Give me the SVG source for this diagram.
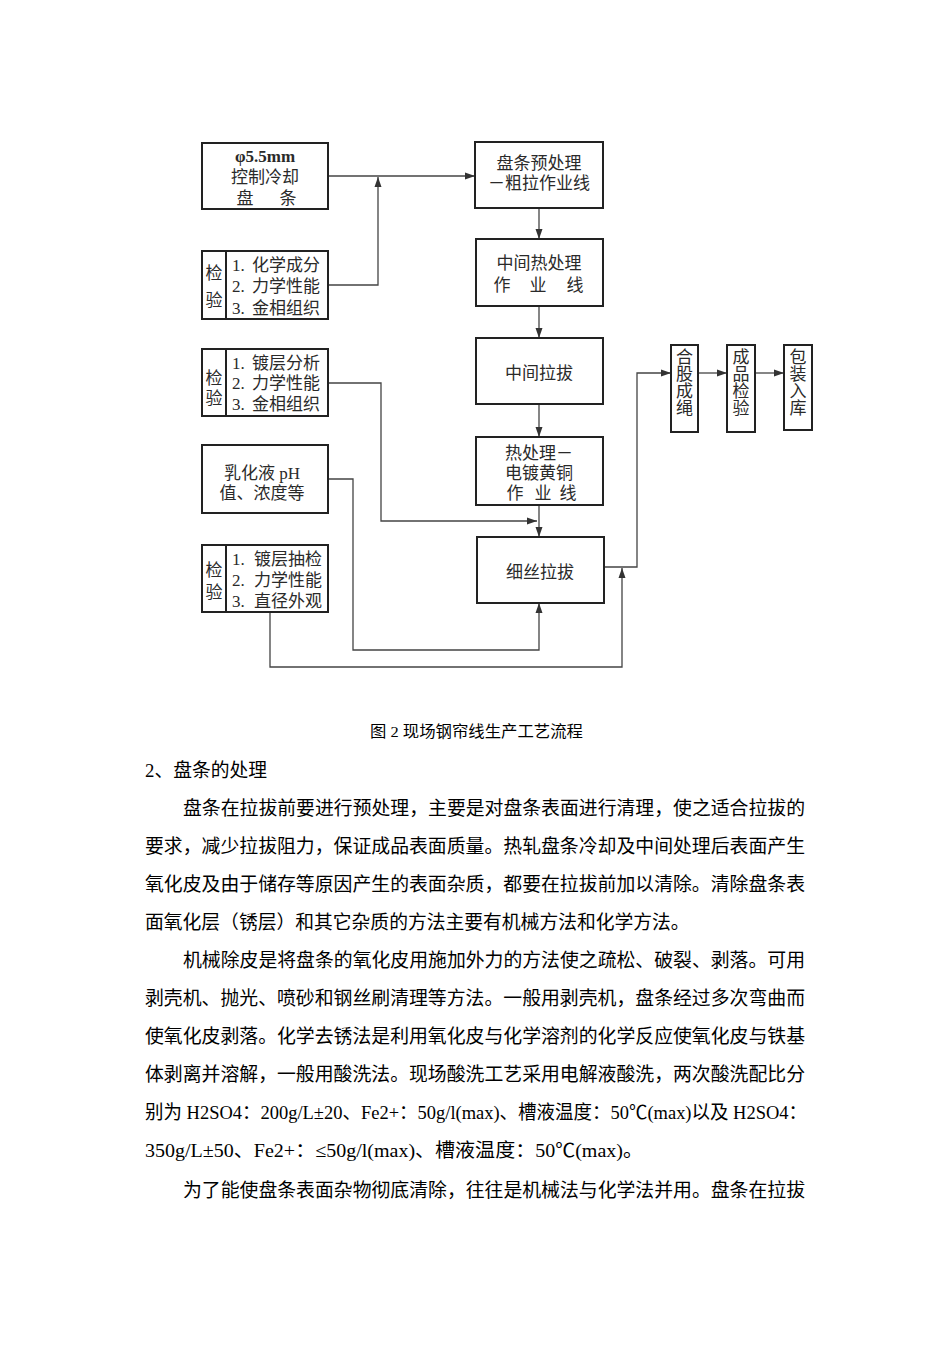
<svg xmlns="http://www.w3.org/2000/svg" width="950" height="1345" viewBox="0 0 950 1345">
<style>
.bg{fill:#fff}
.box{fill:#fff;stroke:#222;stroke-width:2}
.con{fill:none;stroke:#444;stroke-width:1.3}
.t{font-family:"Liberation Serif","Noto Sans CJK SC",serif;font-size:17px;fill:#2a2a2a;dominant-baseline:central}
.c{text-anchor:middle}
.body{font-family:"Liberation Serif","Noto Sans CJK SC",serif;font-size:18.8px;fill:#000;dominant-baseline:central}
.cap{font-family:"Liberation Serif","Noto Sans CJK SC",serif;font-size:15.5px;fill:#000;dominant-baseline:central}
</style>
<defs>
<marker id="ah" markerUnits="userSpaceOnUse" markerWidth="10" markerHeight="8" refX="10" refY="4" orient="auto">
<path d="M0,0.5 L10,4 L0,7.5 z" fill="#333"/>
</marker>
</defs>
<rect class="bg" x="0" y="0" width="950" height="1345"/>

<g id="connectors">
<path class="con" d="M328,176 H475" marker-end="url(#ah)"/>
<path class="con" d="M328,285 H378 V177" marker-end="url(#ah)"/>
<path class="con" d="M539,208 V239" marker-end="url(#ah)"/>
<path class="con" d="M539,306 V338" marker-end="url(#ah)"/>
<path class="con" d="M539,404 V437" marker-end="url(#ah)"/>
<path class="con" d="M539,505 V537" marker-end="url(#ah)"/>
<path class="con" d="M328,383 H381 V521 H537" marker-end="url(#ah)"/>
<path class="con" d="M328,479 H353 V650 H539 V603" marker-end="url(#ah)"/>
<path class="con" d="M270,612 V667 H622 V568" marker-end="url(#ah)"/>
<path class="con" d="M604,567 H637 V373 H671" marker-end="url(#ah)"/>
<path class="con" d="M698,373 H727" marker-end="url(#ah)"/>
<path class="con" d="M755,373 H784" marker-end="url(#ah)"/>
</g>

<g id="n_wirerod">
<rect class="box" x="202" y="143" width="126" height="66"/>
<text class="t c" x="265" y="156" style="font-weight:bold">φ5.5mm</text>
<text class="t c" x="265" y="177">控制冷却</text>
<text class="t c" y="198"><tspan x="245">盘</tspan><tspan x="288">条</tspan></text>
</g>

<g id="n_check1">
<rect class="box" x="202" y="251" width="126" height="68"/>
<line x1="226" y1="251" x2="226" y2="319" stroke="#222" stroke-width="2"/>
<text class="t c" x="214" y="273">检</text>
<text class="t c" x="214" y="300">验</text>
<text class="t" x="232" y="265">1.<tspan x="252">化学成分</tspan></text>
<text class="t" x="232" y="286">2.<tspan x="252">力学性能</tspan></text>
<text class="t" x="232" y="308">3.<tspan x="252">金相组织</tspan></text>
</g>

<g id="n_check2">
<rect class="box" x="202" y="349" width="126" height="67"/>
<line x1="226" y1="349" x2="226" y2="416" stroke="#222" stroke-width="2"/>
<text class="t c" x="214" y="378">检</text>
<text class="t c" x="214" y="398">验</text>
<text class="t" x="232" y="363">1.<tspan x="252">镀层分析</tspan></text>
<text class="t" x="232" y="383">2.<tspan x="252">力学性能</tspan></text>
<text class="t" x="232" y="404">3.<tspan x="252">金相组织</tspan></text>
</g>

<g id="n_emulsion">
<rect class="box" x="202" y="445" width="126" height="68"/>
<text class="t c" x="262" y="473">乳化液 pH</text>
<text class="t c" x="262" y="493">值、浓度等</text>
</g>

<g id="n_check3">
<rect class="box" x="202" y="545" width="126" height="67"/>
<line x1="226" y1="545" x2="226" y2="612" stroke="#222" stroke-width="2"/>
<text class="t c" x="214" y="570">检</text>
<text class="t c" x="214" y="592">验</text>
<text class="t" x="232" y="559">1.<tspan x="254">镀层抽检</tspan></text>
<text class="t" x="232" y="580">2.<tspan x="254">力学性能</tspan></text>
<text class="t" x="232" y="601">3.<tspan x="254">直径外观</tspan></text>
</g>

<g id="n_pretreat">
<rect class="box" x="475" y="142" width="128" height="66"/>
<text class="t c" x="539" y="163">盘条预处理</text>
<text class="t c" x="539" y="183">－粗拉作业线</text>
</g>

<g id="n_midheat">
<rect class="box" x="476" y="239" width="127" height="67"/>
<text class="t c" x="539" y="263">中间热处理</text>
<text class="t c" y="285"><tspan x="502">作</tspan><tspan x="538">业</tspan><tspan x="575">线</tspan></text>
</g>

<g id="n_middraw">
<rect class="box" x="476" y="338" width="127" height="66"/>
<text class="t c" x="539" y="373">中间拉拔</text>
</g>

<g id="n_brass">
<rect class="box" x="476" y="437" width="127" height="68"/>
<text class="t" x="505" y="453">热处理－</text>
<text class="t" x="505" y="473">电镀黄铜</text>
<text class="t c" y="493"><tspan x="515">作</tspan><tspan x="543">业</tspan><tspan x="568">线</tspan></text>
</g>

<g id="n_finedraw">
<rect class="box" x="477" y="537" width="127" height="66"/>
<text class="t c" x="540" y="572">细丝拉拔</text>
</g>

<g id="n_strand">
<rect class="box" x="671" y="345" width="27" height="87"/>
<text class="t c" x="684.5"><tspan x="684.5" y="357">合</tspan><tspan x="684.5" y="374">股</tspan><tspan x="684.5" y="391">成</tspan><tspan x="684.5" y="408">绳</tspan></text>
</g>

<g id="n_inspect">
<rect class="box" x="727" y="345" width="28" height="87"/>
<text class="t c" x="741"><tspan x="741" y="357">成</tspan><tspan x="741" y="374">品</tspan><tspan x="741" y="391">检</tspan><tspan x="741" y="408">验</tspan></text>
</g>

<g id="n_pack">
<rect class="box" x="784" y="345" width="28" height="85"/>
<text class="t c" x="798"><tspan x="798" y="357">包</tspan><tspan x="798" y="374">装</tspan><tspan x="798" y="391">入</tspan><tspan x="798" y="408">库</tspan></text>
</g>

<g id="caption">
<text class="cap" x="370" y="731" textLength="213" lengthAdjust="spacingAndGlyphs">图 2 现场钢帘线生产工艺流程</text>
</g>

<g id="bodytext">
<text class="body" x="145" y="770">2、盘条的处理</text>
<text class="body" x="183" y="808" textLength="622" lengthAdjust="spacingAndGlyphs">盘条在拉拔前要进行预处理，主要是对盘条表面进行清理，使之适合拉拔的</text>
<text class="body" x="145" y="846" textLength="660" lengthAdjust="spacingAndGlyphs">要求，减少拉拔阻力，保证成品表面质量。热轧盘条冷却及中间处理后表面产生</text>
<text class="body" x="145" y="884" textLength="660" lengthAdjust="spacingAndGlyphs">氧化皮及由于储存等原因产生的表面杂质，都要在拉拔前加以清除。清除盘条表</text>
<text class="body" x="145" y="922">面氧化层（锈层）和其它杂质的方法主要有机械方法和化学方法。</text>
<text class="body" x="183" y="960" textLength="622" lengthAdjust="spacingAndGlyphs">机械除皮是将盘条的氧化皮用施加外力的方法使之疏松、破裂、剥落。可用</text>
<text class="body" x="145" y="998" textLength="660" lengthAdjust="spacingAndGlyphs">剥壳机、抛光、喷砂和钢丝刷清理等方法。一般用剥壳机，盘条经过多次弯曲而</text>
<text class="body" x="145" y="1036" textLength="660" lengthAdjust="spacingAndGlyphs">使氧化皮剥落。化学去锈法是利用氧化皮与化学溶剂的化学反应使氧化皮与铁基</text>
<text class="body" x="145" y="1074" textLength="660" lengthAdjust="spacingAndGlyphs">体剥离并溶解，一般用酸洗法。现场酸洗工艺采用电解液酸洗，两次酸洗配比分</text>
<text class="body" x="145" y="1112" textLength="662" lengthAdjust="spacingAndGlyphs">别为 H2SO4：200g/L±20、Fe2+：50g/l(max)、槽液温度：50℃(max)以及 H2SO4：</text>
<text class="body" x="145" y="1150" textLength="498" lengthAdjust="spacingAndGlyphs">350g/L±50、Fe2+：≤50g/l(max)、槽液温度：50℃(max)。</text>
<text class="body" x="183" y="1190" textLength="622" lengthAdjust="spacingAndGlyphs">为了能使盘条表面杂物彻底清除，往往是机械法与化学法并用。盘条在拉拔</text>
</g>
</svg>
